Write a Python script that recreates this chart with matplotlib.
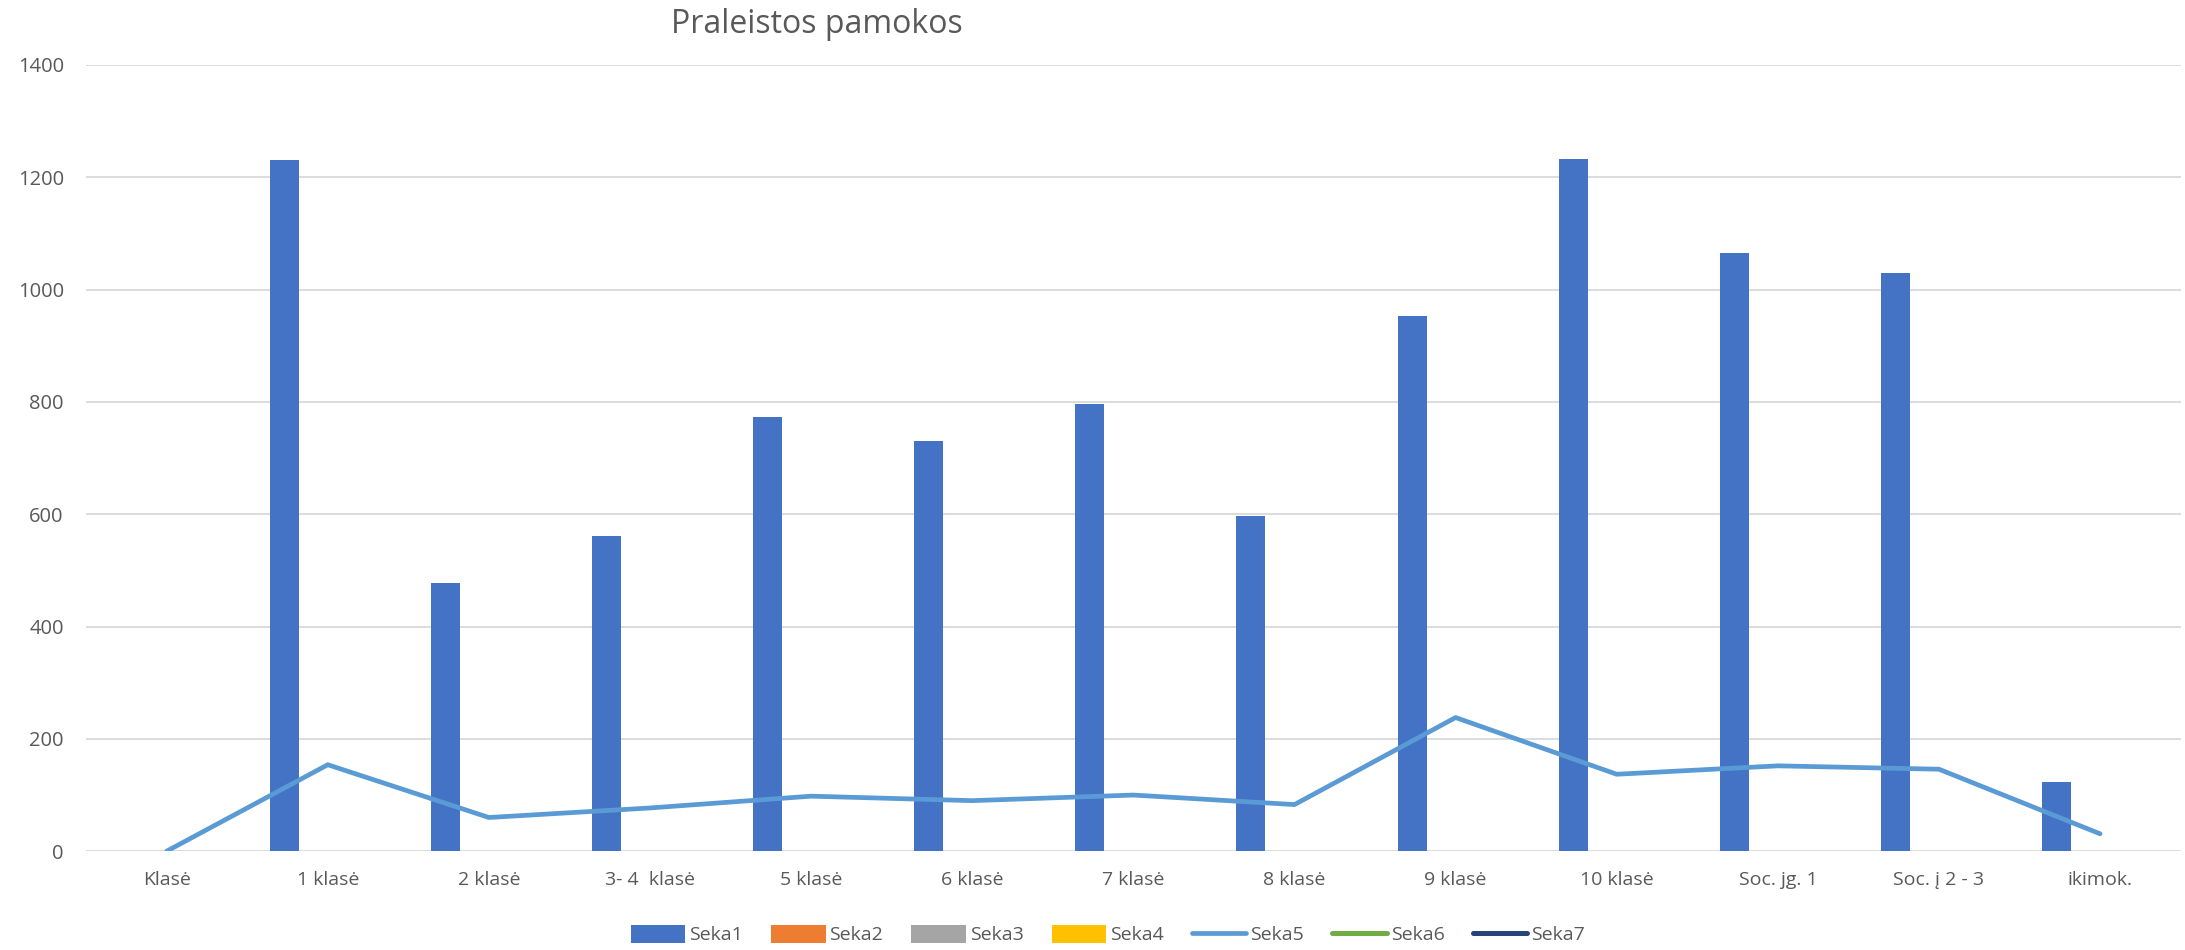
import numpy as np
import matplotlib
matplotlib.use("Agg")
import matplotlib.pyplot as plt

plt.rcParams['font.family'] = ['Open Sans', 'DejaVu Sans']

categories = ["Klasė", "1 klasė", "2 klasė", "3- 4  klasė", "5 klasė", "6 klasė",
              "7 klasė", "8 klasė", "9 klasė", "10 klasė", "Soc. jg. 1",
              "Soc. į 2 - 3", "ikimok."]
seka1 = [0, 1230, 477, 561, 773, 731, 797, 597, 953, 1233, 1066, 1030, 124]
seka2 = [0, 0, 0, 0, 0, 0, 0, 0, 0, 0, 0, 0, 0]
seka3 = [0, 0, 0, 0, 0, 0, 0, 0, 0, 0, 0, 0, 0]
seka4 = [0, 0, 0, 0, 0, 0, 0, 0, 0, 0, 0, 0, 0]
seka5 = [0, 154, 60, 77, 98, 90, 100, 83, 238, 137, 152, 146, 31]
y_ticks = [0, 200, 400, 600, 800, 1000, 1200, 1400]

txt = '#595959'
grid = '#D9D9D9'

fig = plt.figure(figsize=(21.85, 9.5), dpi=100)
ax = fig.add_axes([0.0394, 0.104, 0.9586, 0.8276])

x = np.arange(len(categories))
w = 0.18
handles = []
bars = [(seka1, '#4472C4', 'Seka1'), (seka2, '#ED7D31', 'Seka2'),
        (seka3, '#A5A5A5', 'Seka3'), (seka4, '#FFC000', 'Seka4')]
for i, (vals, col, lab) in enumerate(bars):
    b = ax.bar(x + (i - 1.5) * w, vals, width=w, color=col, label=lab, linewidth=0, zorder=3)
    handles.append(b)

l5, = ax.plot(x, seka5, color='#5B9BD5', linewidth=3.4, solid_capstyle='round',
              solid_joinstyle='round', label='Seka5', zorder=4)
l6, = ax.plot([], [], color='#70AD47', linewidth=3.6, solid_capstyle='round', label='Seka6')
l7, = ax.plot([], [], color='#264478', linewidth=3.6, solid_capstyle='round', label='Seka7')
handles += [l5, l6, l7]

ax.set_xlim(-0.5, len(categories) - 0.5)
ax.set_ylim(0, 1400)
ax.set_yticks(y_ticks)
ax.set_xticks(x)
ax.set_xticklabels(categories)
ax.tick_params(axis='both', length=0, labelsize=14, labelcolor=txt)
ax.tick_params(axis='y', pad=16, labelsize=14.5)
ax.tick_params(axis='x', pad=14)
ax.grid(axis='y', color=grid, linewidth=1.3, zorder=0)
ax.set_axisbelow(True)
for s in ax.spines.values():
    s.set_visible(False)

fig.text(0.374, 0.974, "Praleistos pamokos", ha='center', va='center',
         fontsize=23, color=txt)

fig.legend(handles=handles, labels=[h.get_label() for h in handles],
           loc='center', bbox_to_anchor=(0.507, 0.016), ncol=7, frameon=False,
           fontsize=14, labelcolor=txt, handlelength=2.8, handletextpad=0.2,
           columnspacing=1.45, handleheight=1.0)

fig.savefig('out.png', dpi=100, facecolor='white')
